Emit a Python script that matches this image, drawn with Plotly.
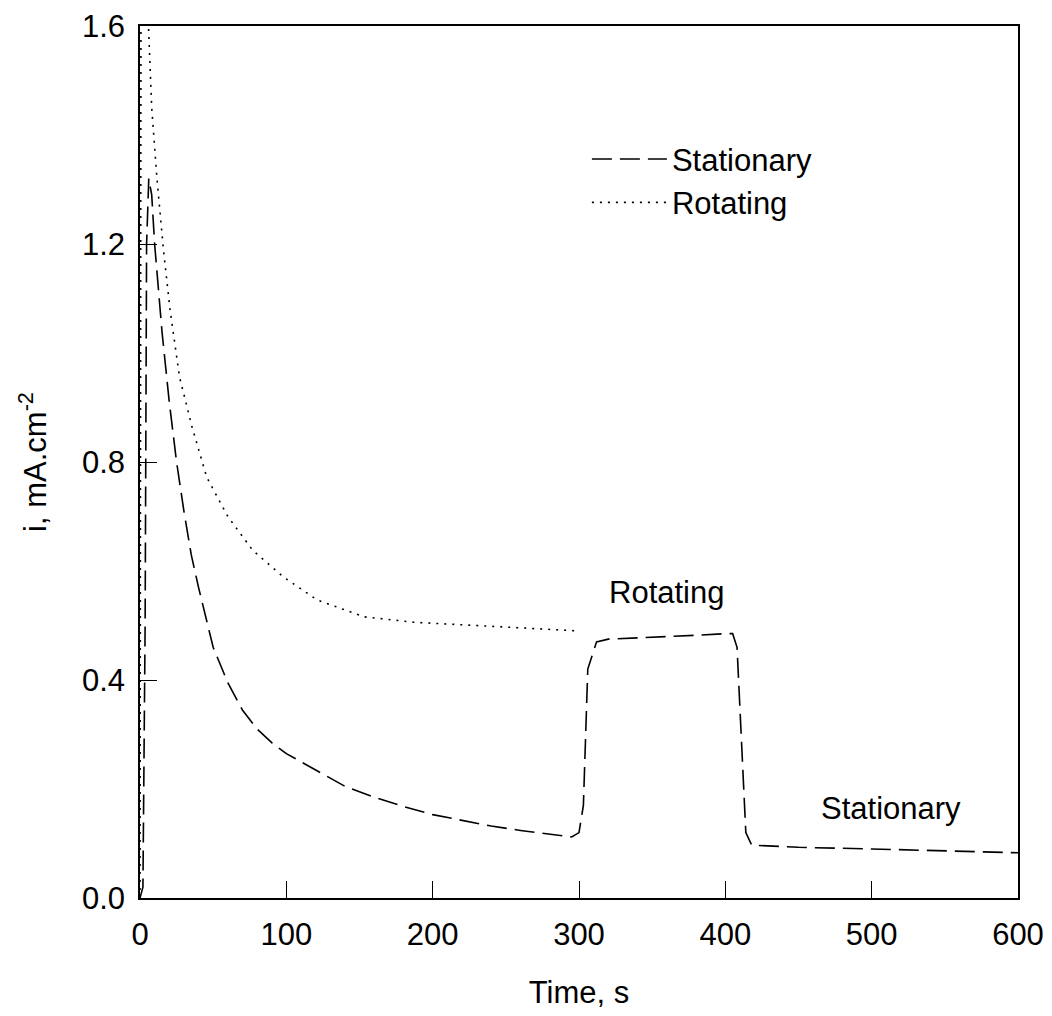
import plotly.graph_objects as go

# Stationary electrode current (dashed)
stat_t = [0, 2, 3.5, 4.5, 6, 8, 10, 15, 20, 25, 30, 35, 40, 50, 60, 70, 80, 90, 100,
          120, 140, 160, 180, 200, 220, 240, 260, 280, 295, 300, 303, 306, 312, 320,
          350, 380, 400, 405, 408, 411, 414, 418, 430, 450, 500, 550, 600]
stat_i = [0.0, 0.02, 0.5, 1.2, 1.32, 1.29, 1.2, 1.04, 0.91, 0.80, 0.71, 0.63, 0.57,
          0.46, 0.395, 0.345, 0.31, 0.285, 0.265, 0.235, 0.205, 0.185, 0.168, 0.153,
          0.142, 0.132, 0.124, 0.117, 0.112, 0.12, 0.17, 0.42, 0.47, 0.475, 0.478,
          0.482, 0.485, 0.485, 0.46, 0.30, 0.12, 0.097, 0.095, 0.093, 0.09, 0.087, 0.083]

# Rotating electrode current (dotted)
rot_t = [0, 1, 3, 5.5, 8, 11.6, 16, 20.5, 27, 35.6, 45.6, 60, 77, 98, 121, 153, 187,
         233, 270, 300]
rot_i = [0.0, 2.5, 2.0, 1.62, 1.45, 1.32, 1.19, 1.08, 0.956, 0.864, 0.772, 0.70,
         0.638, 0.589, 0.547, 0.516, 0.506, 0.50, 0.495, 0.49]

x_ticks = [0, 100, 200, 300, 400, 500, 600]
y_ticks = [0.0, 0.4, 0.8, 1.2, 1.6]

FONT = "Liberation Sans, Arial, sans-serif"

fig = go.Figure()
fig.add_trace(go.Scatter(x=stat_t, y=stat_i, mode="lines", name="Stationary",
                         line=dict(color="black", width=1.6, dash="20px,8px")))
fig.add_trace(go.Scatter(x=rot_t, y=rot_i, mode="lines", name="Rotating",
                         line=dict(color="black", width=1.6, dash="2px,6px")))

fig.add_annotation(x=360, y=0.56, text="Rotating", showarrow=False,
                   font=dict(size=31, color="black", family=FONT))
fig.add_annotation(x=513, y=0.165, text="Stationary", showarrow=False,
                   font=dict(size=31, color="black", family=FONT))

axis_common = dict(showgrid=False, zeroline=False, showline=True, linecolor="black",
                   linewidth=1.5, mirror=True, ticks="inside", ticklen=17,
                   tickcolor="black", tickwidth=1,
                   tickfont=dict(size=31, color="black", family=FONT))

fig.update_xaxes(range=[0, 600], tickvals=x_ticks, ticktext=[str(v) for v in x_ticks],
                 ticklabelstandoff=8, automargin="bottom",
                 title=dict(text="Time, s", font=dict(size=31, color="black", family=FONT),
                            standoff=30),
                 **axis_common)
fig.update_yaxes(range=[0, 1.6], tickvals=y_ticks, ticktext=[f"{v:.1f}" for v in y_ticks],
                 ticklabelstandoff=7, automargin="left",
                 title=dict(text="i, mA.cm<sup>-2</sup>",
                            font=dict(size=31, color="black", family=FONT), standoff=26),
                 **axis_common)

fig.update_layout(
    width=1052, height=1016,
    margin=dict(l=132, r=42, t=18, b=126, autoexpand=False),
    plot_bgcolor="white", paper_bgcolor="white",
    font=dict(family=FONT, color="black"),
    legend=dict(x=0.509, y=0.878, xanchor="left", yanchor="top", itemwidth=75,
                bgcolor="rgba(0,0,0,0)", font=dict(size=31, color="black", family=FONT)),
    showlegend=True,
)

fig.write_html("out.html")
